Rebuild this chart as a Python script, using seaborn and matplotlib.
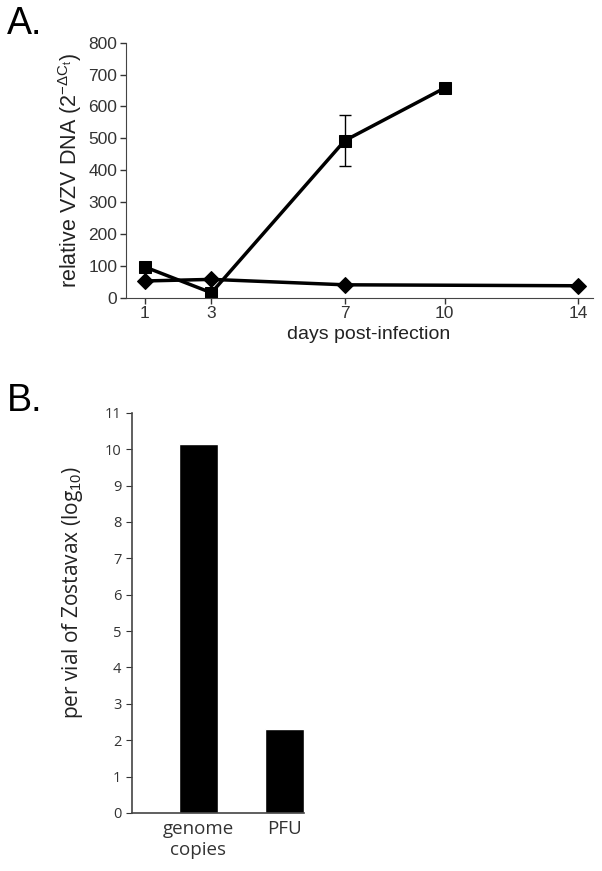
import pandas as pd
import seaborn as sns
import matplotlib.pyplot as plt

# Panel A data
days_sq = [1, 3, 7, 10]
vzv_sq = [97, 16, 493, 658]
err_sq = [0, 0, 80, 10]
days_di = [1, 3, 7, 14]
vzv_di = [53, 58, 41, 38]
xticks_a = [1, 3, 7, 10, 14]

# Panel B data
categories = ["genome\ncopies", "PFU"]
log_values = [10.15, 2.31]

sns.set_style("ticks")
plt.rcParams['font.family'] = ['Liberation Sans', 'DejaVu Sans']
plt.rcParams['mathtext.fontset'] = 'custom'
plt.rcParams['mathtext.rm'] = 'Liberation Sans'
plt.rcParams['mathtext.it'] = 'Liberation Sans'

fig = plt.figure(figsize=(6.02, 8.71), dpi=100)

# ---- Panel A ----
ax1 = fig.add_axes([0.209, 0.658, 0.776, 0.293])
sq = pd.DataFrame({"day": days_sq, "vzv": vzv_sq})
di = pd.DataFrame({"day": days_di, "vzv": vzv_di})
sns.lineplot(data=sq, x="day", y="vzv", ax=ax1, color="black", lw=2.5,
             marker="s", markersize=8.5, markeredgecolor="black")
sns.lineplot(data=di, x="day", y="vzv", ax=ax1, color="black", lw=2.5,
             marker="D", markersize=8.5, markeredgecolor="black")
ax1.errorbar(days_sq, vzv_sq, yerr=err_sq, fmt="none", ecolor="black",
             elinewidth=1, capsize=4, capthick=1)
ax1.set_xlim(0.43, 14.45)
ax1.set_ylim(0, 800)
ax1.set_xticks(xticks_a)
ax1.set_yticks(range(0, 801, 100))
ax1.tick_params(labelsize=12.5, colors="#333333", width=1, length=4, pad=2)
ax1.set_xlabel("days post-infection", fontsize=14, color="#222222")
ax1.xaxis.set_label_coords(0.52, -0.112)
ax1.set_ylabel(r"relative VZV DNA (2$^{-\Delta C_t}$)", fontsize=15.5,
               color="#222222", labelpad=3)
sns.despine(ax=ax1)
for s in ["left", "bottom"]:
    ax1.spines[s].set_color("#444444")

# ---- Panel B ----
ax2 = fig.add_axes([0.219, 0.0666, 0.286, 0.4594])
bdf = pd.DataFrame({"cat": categories, "val": log_values})
sns.barplot(data=bdf, x="cat", y="val", ax=ax2, color="black", width=0.45,
            saturation=1)
ax2.set_xlim(-0.77, 1.227)
ax2.set_ylim(0, 11)
ax2.set_yticks(range(0, 12))
ax2.set_xlabel("")
ax2.set_ylabel(r"per vial of Zostavax (log$_{10}$)", fontsize=15,
               family=["Open Sans", "DejaVu Sans"], color="#222222")
ax2.yaxis.set_label_coords(-0.27, 0.55)
ax2.tick_params(axis="y", labelsize=10.5, colors="#333333", length=4)
ax2.tick_params(axis="x", length=0, labelsize=13.5, colors="#333333", pad=5)
for t in ax2.get_xticklabels() + ax2.get_yticklabels():
    t.set_family(["Open Sans", "DejaVu Sans"])
sns.despine(ax=ax2)
for s in ["left", "bottom"]:
    ax2.spines[s].set_color("#444444")
    ax2.spines[s].set_linewidth(1.2)

fig.text(0.012, 0.961, "A.", fontsize=27, color="black")
fig.text(0.012, 0.528, "B.", fontsize=27, color="black")

fig.savefig("out.png", dpi=100)
